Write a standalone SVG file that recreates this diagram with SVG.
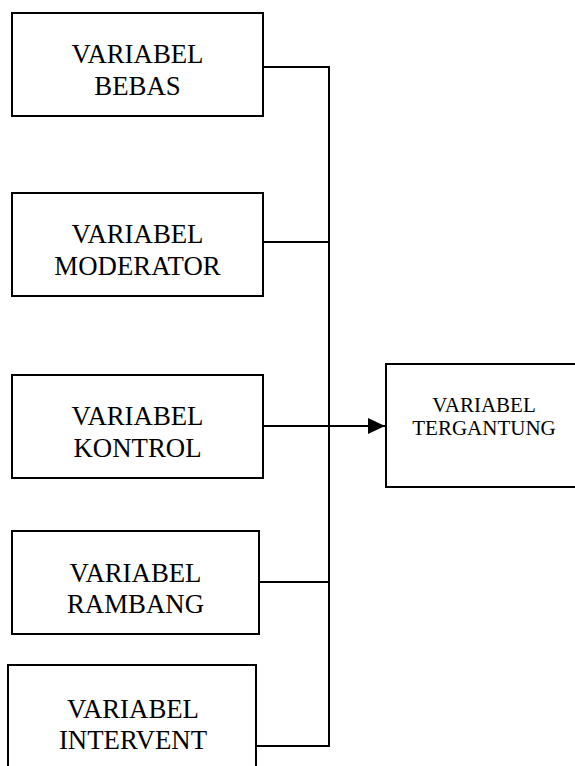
<svg xmlns="http://www.w3.org/2000/svg" width="575" height="766" viewBox="0 0 575 766">
<style>
.box{fill:#fff;stroke:#000;stroke-width:2}
.t{font-family:"Liberation Serif","Times New Roman",serif;font-size:26.8px;fill:#000;text-anchor:middle}
.ts{font-family:"Liberation Serif","Times New Roman",serif;font-size:21px;fill:#000;text-anchor:middle}
.ln{fill:none;stroke:#000;stroke-width:2}
</style>
<defs>
<marker id="arr" markerWidth="17" markerHeight="16" refX="17" refY="8" orient="auto" markerUnits="userSpaceOnUse">
<polygon points="0,0 17,8 0,16" fill="#000"/>
</marker>
</defs>
<rect width="575" height="766" fill="#fff"/>
<g id="connectors">
<polyline class="ln" points="263,67 329,67 329,746 256,746"/>
<line class="ln" x1="263" y1="242" x2="329" y2="242"/>
<line class="ln" x1="259" y1="582" x2="329" y2="582"/>
<line class="ln" x1="263" y1="426" x2="385" y2="426" marker-end="url(#arr)"/>
</g>
<g id="bebas">
<rect class="box" x="12" y="13" width="251" height="103"/>
<text class="t" x="137.5" y="63">VARIABEL</text>
<text class="t" x="137.5" y="95">BEBAS</text>
</g>
<g id="moderator">
<rect class="box" x="12" y="193" width="251" height="103"/>
<text class="t" x="137.5" y="243">VARIABEL</text>
<text class="t" x="137.5" y="275">MODERATOR</text>
</g>
<g id="kontrol">
<rect class="box" x="12" y="375" width="251" height="103"/>
<text class="t" x="137.5" y="425">VARIABEL</text>
<text class="t" x="137.5" y="457">KONTROL</text>
</g>
<g id="rambang">
<rect class="box" x="12" y="531" width="247" height="103"/>
<text class="t" x="135.5" y="582">VARIABEL</text>
<text class="t" x="135.5" y="613">RAMBANG</text>
</g>
<g id="intervent">
<rect class="box" x="8" y="665" width="248" height="120"/>
<text class="t" x="133" y="718">VARIABEL</text>
<text class="t" x="133" y="749">INTERVENT</text>
</g>
<g id="tergantung">
<rect class="box" x="386" y="364" width="200" height="123"/>
<text class="ts" x="484" y="412">VARIABEL</text>
<text class="ts" x="484" y="435">TERGANTUNG</text>
</g>
</svg>
